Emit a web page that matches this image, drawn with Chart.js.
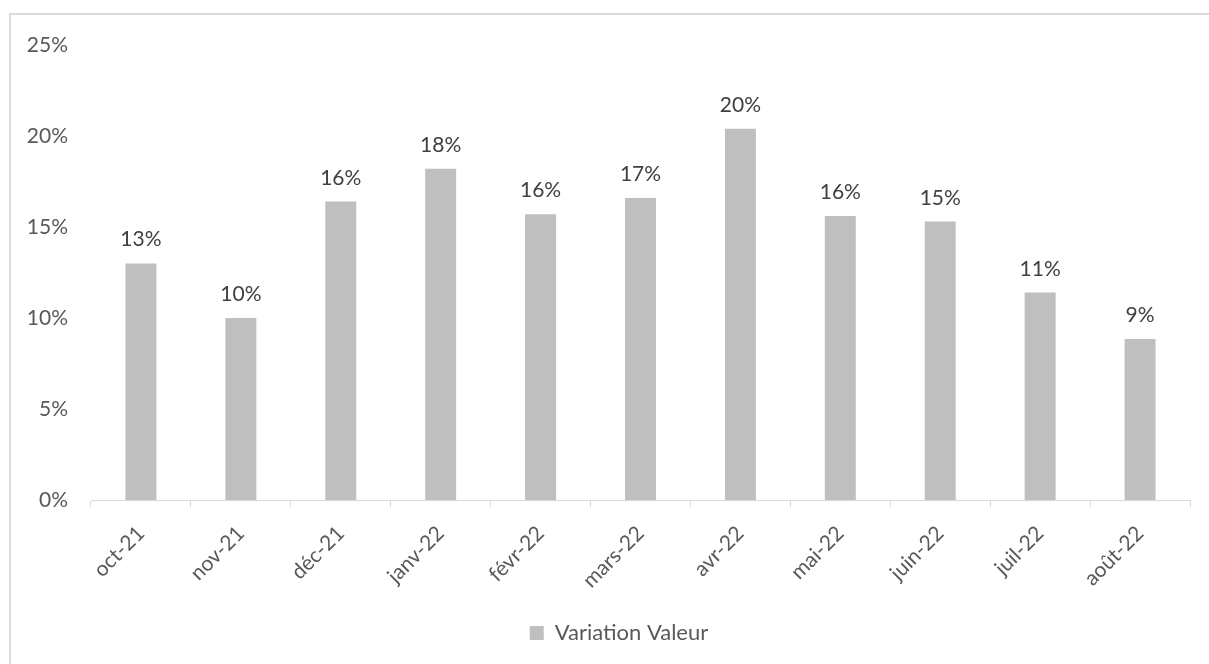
<!DOCTYPE html>
<html>
<head>
<meta charset="utf-8">
<script src="https://cdn.jsdelivr.net/npm/chart.js@4/dist/chart.umd.min.js"></script>
<style>
  body { margin: 0; background: #fff; overflow: hidden; }
  .wrap { position: relative; width: 1209px; height: 664px; }
  .frame {
    position: absolute; left: 9px; top: 13px; width: 1400px; height: 800px;
    border-top: 2px solid #d9d9d9; border-left: 2px solid #d9d9d9;
  }
  canvas { position: absolute; left: 0; top: 0; }
</style>
</head>
<body>
<div class="wrap">
  <div class="frame"></div>
  <canvas id="chart" width="1209" height="664"></canvas>
</div>
<script>
const months = ['oct-21', 'nov-21', 'déc-21', 'janv-22', 'févr-22', 'mars-22', 'avr-22', 'mai-22', 'juin-22', 'juil-22', 'août-22'];
const variationValeur = [13.0, 10.0, 16.4, 18.2, 15.7, 16.6, 20.4, 15.6, 15.3, 11.4, 8.85];
const yTicks = [0, 5, 10, 15, 20, 25];

const FONT = 'Lato, "Open Sans", sans-serif';

// draws the % value above each bar
const barLabels = {
  id: 'barLabels',
  afterDatasetsDraw(chart) {
    const ctx = chart.ctx;
    const meta = chart.getDatasetMeta(0);
    ctx.save();
    ctx.font = '21px ' + FONT;
    ctx.fillStyle = '#404040';
    ctx.textAlign = 'center';
    ctx.textBaseline = 'alphabetic';
    meta.data.forEach((bar, i) => {
      ctx.fillText(Math.round(variationValeur[i]) + '%', bar.x, bar.y - 17);
    });
    ctx.restore();
  }
};

// nudge the legend so it is centred a bit to the right, like the original
const legendShift = {
  id: 'legendShift',
  afterLayout(chart) {
    if (chart.legend) chart.legend.left += 48;
  }
};

new Chart(document.getElementById('chart').getContext('2d'), {
  type: 'bar',
  data: {
    labels: months,
    datasets: [{
      label: 'Variation Valeur',
      data: variationValeur,
      backgroundColor: '#bfbfbf',
      borderWidth: 0,
      categoryPercentage: 1,
      barPercentage: 0.31,
    }],
  },
  options: {
    responsive: false,
    animation: false,
    layout: { padding: { top: 45, left: 0, right: 19, bottom: 10 } },
    scales: {
      x: {
        offset: true,
        grid: {
          offset: true,
          drawOnChartArea: false,
          drawTicks: true,
          tickLength: 7,
          color: '#d9d9d9',
        },
        border: { display: true, color: '#d9d9d9', width: 1 },
        ticks: {
          color: '#595959',
          font: { family: FONT, size: 21 },
          minRotation: 45,
          maxRotation: 45,
          padding: 14,
          autoSkip: false,
        },
        afterFit(scale) { scale.height = 114; },
      },
      y: {
        min: 0,
        max: 25,
        afterBuildTicks(scale) { scale.ticks = yTicks.map(v => ({ value: v })); },
        grid: { display: false, drawTicks: false },
        border: { display: false },
        ticks: {
          color: '#595959',
          font: { family: FONT, size: 21 },
          padding: 23,
          callback: v => v + '%',
        },
        afterFit(scale) { scale.width = 91; },
      },
    },
    plugins: {
      legend: {
        display: true,
        position: 'bottom',
        labels: {
          color: '#595959',
          font: { family: FONT, size: 22 },
          boxWidth: 14,
          boxHeight: 14,
          padding: 8,
        },
      },
      tooltip: { enabled: false },
    },
  },
  plugins: [barLabels, legendShift],
});
</script>
</body>
</html>
